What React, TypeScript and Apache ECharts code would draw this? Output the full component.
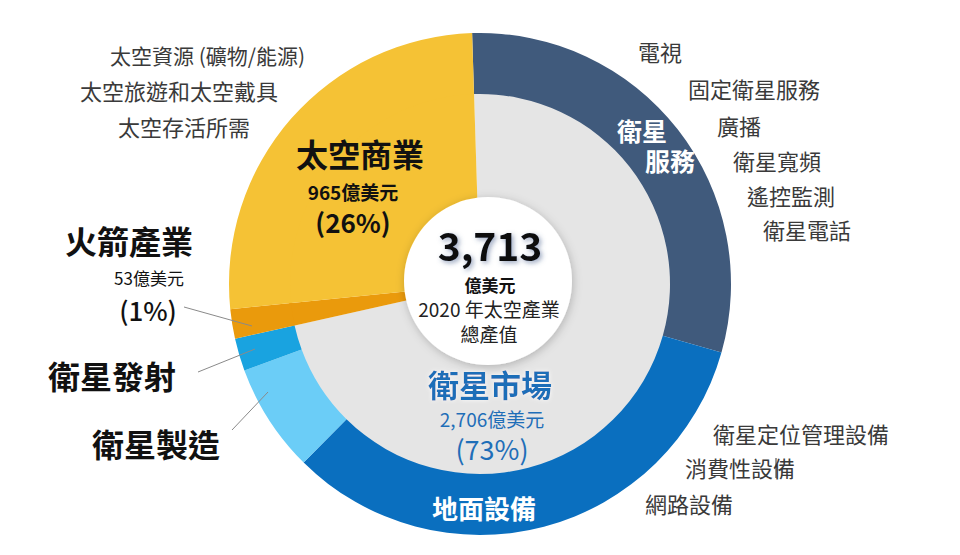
import React, { useEffect, useRef } from "react";
import * as echarts from "echarts";

// Outer ring segments (share of the circle, %), clockwise from 12 o'clock
const ringCategories = ["衛星服務", "地面設備", "衛星製造", "衛星發射", "火箭產業", "太空商業"];
const ringShares = [29.9, 33.0, 7.0, 2.1, 1.9, 26.1];
const ringColors = ["#405A7C", "#0A6FBF", "#6BCDF7", "#19A3E0", "#EA9A0C", "#F5C235"];

// Inner disk segments (%)
const coreCategories = ["衛星市場", "火箭產業", "太空商業"];
const coreShares = [72.0, 1.9, 26.1];
const coreColors = ["#E5E5E5", "#EA9A0C", "#F5C235"];

// Text lists
const commerceItems = ["太空資源 (礦物/能源)", "太空旅遊和太空戴具", "太空存活所需"];
const serviceItems = ["電視", "固定衛星服務", "廣播", "衛星寬頻", "遙控監測", "衛星電話"];
const groundItems = ["衛星定位管理設備", "消費性設備", "網路設備"];

const totalValue = "3,713";
const totalUnit = "億美元";
const commerceValue = "965億美元";
const commercePct = "(26%)";
const rocketValue = "53億美元";
const rocketPct = "(1%)";
const marketValue = "2,706億美元";
const marketPct = "(73%)";

const FONT = "'Noto Sans CJK TC', 'Noto Sans', sans-serif";

function txt(
  text: string,
  x: number,
  y: number,
  size: number,
  opts: { weight?: any; color?: string; align?: string; shadow?: any } = {}
) {
  const align = opts.align || "center";
  return {
    type: "text",
    z: 100,
    silent: true,
    style: {
      text,
      x,
      y,
      fill: opts.color || "#111",
      fontSize: size,
      fontWeight: opts.weight || "normal",
      fontFamily: FONT,
      lineHeight: Math.round(size * 1.05),
      align,
      textAlign: align,
      verticalAlign: "middle",
      textVerticalAlign: "middle",
      ...(opts.shadow || {}),
    },
  };
}

function line(x1: number, y1: number, x2: number, y2: number, color = "#8A8A8A") {
  return {
    type: "line",
    z: 100,
    silent: true,
    shape: { x1, y1, x2, y2 },
    style: { stroke: color, lineWidth: 1 },
  };
}

export default function App() {
  const ref = useRef<HTMLDivElement>(null);

  useEffect(() => {
    if (!ref.current) return;
    const chart = echarts.init(ref.current, null, { renderer: "svg" });
    const listColor = "#3A3A3A";
    const blue = "#1F6EB8";

    const commercePos = [
      [110, 55],
      [80, 90],
      [118, 126],
    ];
    const servicePos = [
      [638, 51],
      [688, 88],
      [717, 125],
      [733, 160],
      [747, 195],
      [763, 229],
    ];
    const groundPos = [
      [713, 433],
      [685, 467],
      [645, 503],
    ];

    const graphics: any[] = [
      {
        type: "circle",
        z: 90,
        silent: true,
        shape: { cx: 488, cy: 281, r: 84 },
        style: {
          fill: "#ffffff",
          shadowBlur: 10,
          shadowColor: "rgba(0,0,0,0.22)",
          shadowOffsetX: 1,
          shadowOffsetY: 2,
        },
      },
      ...commerceItems.map((t, i) =>
        txt(t, commercePos[i][0], commercePos[i][1], i === 0 ? 21 : 22, {
          color: listColor,
          align: "left",
        })
      ),
      ...serviceItems.map((t, i) =>
        txt(t, servicePos[i][0], servicePos[i][1], 22, { color: listColor, align: "left" })
      ),
      ...groundItems.map((t, i) =>
        txt(t, groundPos[i][0], groundPos[i][1], 22, { color: listColor, align: "left" })
      ),
      line(776, 458, 776, 478, "#333"),
      txt(coreCategories[2], 360, 153, 32, { weight: "bold" }),
      txt(commerceValue, 353, 191, 19, { weight: "bold" }),
      txt(commercePct, 353, 221, 26, { weight: 600 }),
      txt(coreCategories[1], 129, 240, 32, { weight: "bold" }),
      txt(rocketValue, 149, 277, 17),
      txt(rocketPct, 148, 309, 26, { weight: 500 }),
      txt(ringCategories[3], 112, 375, 32, { weight: "bold" }),
      txt(ringCategories[2], 156, 443, 32, { weight: "bold" }),
      txt("衛星", 642, 130, 25, { weight: "bold", color: "#ffffff" }),
      txt("服務", 670, 160, 25, { weight: "bold", color: "#ffffff" }),
      txt(ringCategories[1], 484, 507, 26, { weight: "bold", color: "#ffffff" }),
      txt(totalValue, 490, 244, 39, {
        weight: "bold",
        color: "#111",
        shadow: {
          textShadowColor: "rgba(70,95,140,0.55)",
          textShadowBlur: 5,
          textShadowOffsetX: 2,
          textShadowOffsetY: 2,
        },
      }),
      txt(totalUnit, 490, 284, 17, { weight: "bold" }),
      txt("2020 年太空產業", 489, 308, 19, { color: "#222" }),
      txt("總產值", 489, 333, 19, { color: "#222" }),
      txt(coreCategories[0], 490, 383, 31, {
        weight: "bold",
        color: blue,
        shadow: { textShadowColor: "rgba(255,255,255,0.9)", textShadowBlur: 4 },
      }),
      txt(marketValue, 492, 418, 19, { color: blue }),
      txt(marketPct, 492, 448, 27, { color: blue }),
      line(184, 307, 252, 326),
      line(198, 372, 255, 349),
      line(232, 430, 268, 392),
    ];

    chart.setOption({
      animation: false,
      backgroundColor: "#ffffff",
      series: [
        {
          type: "pie",
          center: [480, 284],
          radius: [0, 192],
          startAngle: 91.8,
          clockwise: true,
          silent: true,
          label: { show: false },
          labelLine: { show: false },
          itemStyle: { borderWidth: 0 },
          emphasis: { disabled: true },
          data: coreCategories.map((name, i) => ({
            name,
            value: coreShares[i],
            itemStyle: { color: coreColors[i], borderWidth: 0 },
          })),
        },
        {
          type: "pie",
          center: [480, 284],
          radius: [190, 251],
          startAngle: 91.8,
          clockwise: true,
          silent: true,
          label: { show: false },
          labelLine: { show: false },
          itemStyle: { borderWidth: 0 },
          emphasis: { disabled: true },
          data: ringCategories.map((name, i) => ({
            name,
            value: ringShares[i],
            itemStyle: { color: ringColors[i], borderWidth: 0 },
          })),
        },
      ],
      graphic: { elements: graphics },
    });

    return () => chart.dispose();
  }, []);

  return (
    <div
      ref={ref}
      style={{ position: "fixed", left: 0, top: 0, width: 960, height: 555, background: "#fff" }}
    />
  );
}
